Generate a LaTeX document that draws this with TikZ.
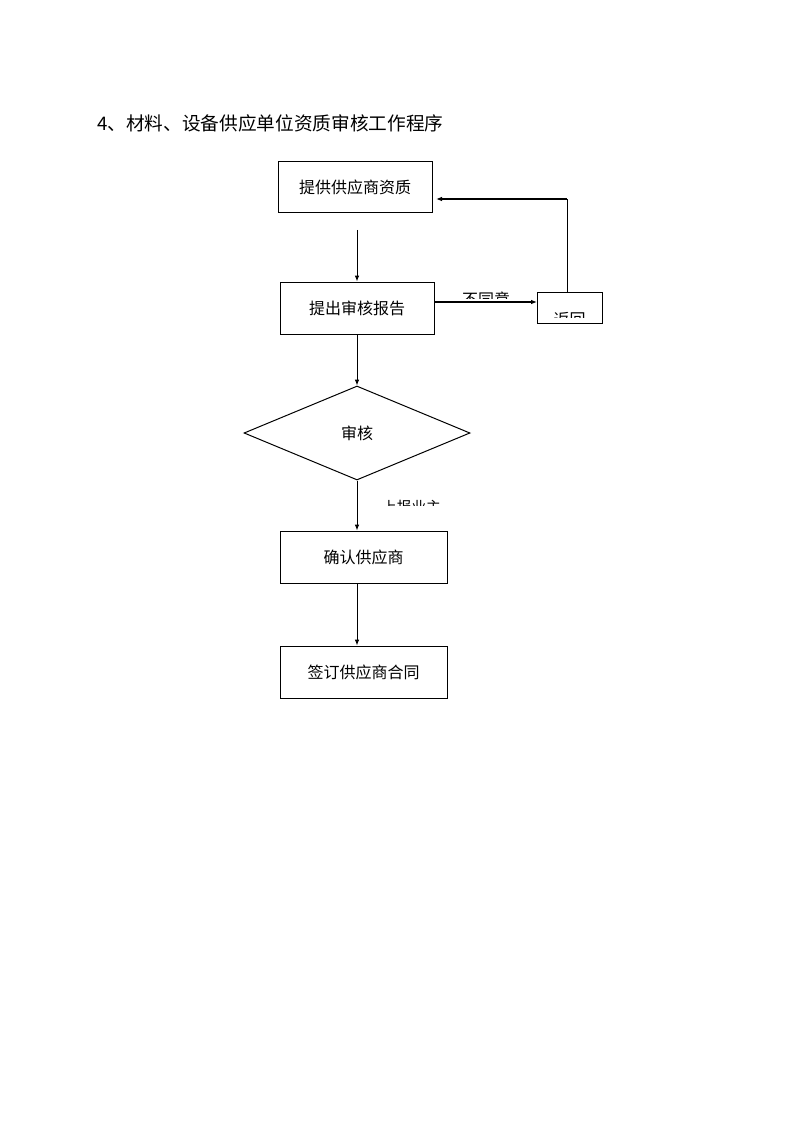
\documentclass[tikz,border=0pt]{standalone}
\usepackage{fontspec}
\setmainfont{Noto Sans CJK SC}
\usetikzlibrary{arrows.meta,shapes.geometric}
\tikzset{
  box/.style={draw,line width=0.75pt,inner sep=0pt,font=\fontsize{12pt}{14pt}\selectfont},
  arr/.style={line width=0.75pt,-{Latex[length=4.5pt,width=3.5pt]}},
  thickarr/.style={line width=1.5pt,-{Latex[length=4.5pt,width=3.5pt]}},
  lbl/.style={inner sep=0pt,anchor=base,font=\fontsize{12pt}{14pt}\selectfont},
}
\begin{document}
\begin{tikzpicture}[x=0.75pt,y=-0.75pt]
\useasboundingbox (0,0) rectangle (794,1123);
\node[anchor=west,inner sep=0pt,font=\fontsize{14pt}{16pt}\selectfont] (title) at (97,123) {4、材料、设备供应单位资质审核工作程序};

\node[box,minimum width=115.5pt,minimum height=38.25pt] (b1) at (355,187.5) {提供供应商资质};
\node[box,minimum width=115.5pt,minimum height=39pt] (b2) at (357,308) {提出审核报告};
\node[box,minimum width=48.75pt,minimum height=23.25pt] (b3) at (569.5,307.5) {};
\node[box,shape=diamond,aspect=2.4,minimum width=169.5pt,minimum height=70.5pt] (d) at (357,433) {审核};
\node[box,minimum width=125.25pt,minimum height=39pt] (b4) at (363.5,557) {确认供应商};
\node[box,minimum width=125.25pt,minimum height=39pt] (b5) at (363.5,672) {签订供应商合同};

\coordinate (s1) at (357,230);
\coordinate (a2) at (434,302);
\coordinate (a3) at (537,302);
\coordinate (r0) at (567,292);
\coordinate (ret) at (436,199);

\draw[arr] (s1) -- (s1 |- b2.north);
\draw[thickarr] (a2) -- (a3);
\draw[line width=0.75pt] (r0) -- (r0 |- ret);
\draw[thickarr] (r0 |- ret) -- (ret);
\draw[arr] (b2.south) -- (d.north);
\draw[arr] (d.south) -- (d.south |- b4.north);
\draw[arr] (d.south |- b4.south) -- (d.south |- b5.north);

\begin{scope}
\clip (440,290) rectangle (530,298.5);
\node[lbl] (l1) at (486,305.5) {不同意};
\end{scope}
\begin{scope}
\clip (545,309) rectangle (595,317.5);
\node[lbl] (l2) at (569.5,325.5) {返回};
\end{scope}
\begin{scope}
\clip (375,497) rectangle (450,505.5);
\node[lbl,font=\fontsize{11pt}{13pt}\selectfont] (l3) at (411.5,512) {上报业主};
\end{scope}
\end{tikzpicture}
\end{document}
